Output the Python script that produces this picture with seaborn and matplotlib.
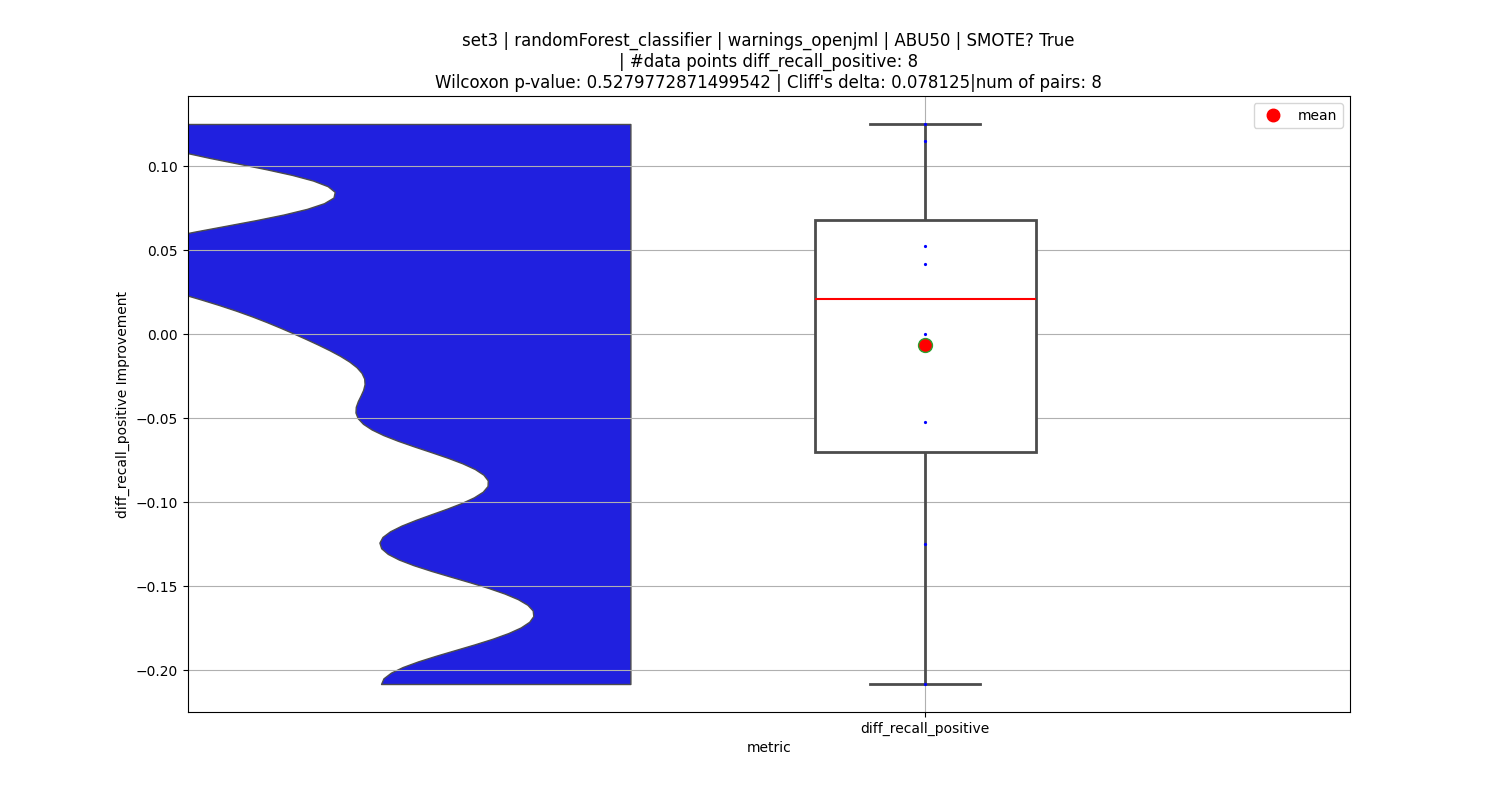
import numpy as np
import pandas as pd
import matplotlib
matplotlib.use('Agg')
import matplotlib.pyplot as plt
import seaborn as sns

# values (8 paired differences)
metric_name = 'diff_recall_positive'
improvement = [0.125, 0.1146, 0.0521, 0.0417, 0.0, -0.0521, -0.125, -0.2083]

title_lines = [
    'set3 | randomForest_classifier | warnings_openjml | ABU50 | SMOTE? True',
    '| #data points diff_recall_positive: 8',
    "Wilcoxon p-value: 0.5279772871499542 | Cliff's delta: 0.078125|num of pairs: 8",
]

df = pd.DataFrame({'metric': [metric_name] * len(improvement), 'value': improvement})
# box on position 0; the half violin's flat edge ends one step to its left
violin_width = 1.78
df['box_pos'] = 0.0
df['violin_pos'] = -1.0 - violin_width / 2

fig, ax = plt.subplots(figsize=(15, 8))

sns.violinplot(data=df, x='violin_pos', y='value', native_scale=True, orient='x',
               split=True, inner=None, cut=0, bw_adjust=0.3, width=violin_width,
               color='blue', linecolor='#4c4c4c', linewidth=1, ax=ax)

sns.boxplot(data=df, x='box_pos', y='value', native_scale=True, orient='x',
            width=0.75, color='white', linecolor='#4c4c4c', linewidth=2,
            showmeans=True,
            meanprops={'marker': 'o', 'markerfacecolor': 'red', 'markersize': 10},
            medianprops={'color': 'red', 'linewidth': 1.5}, ax=ax)

sns.stripplot(data=df, x='box_pos', y='value', native_scale=True, orient='x',
              color='blue', size=2.3, jitter=False, ax=ax)

ax.plot([], [], 'o', color='red', markersize=9, label='mean')
ax.legend(loc='upper right')

ax.set_xticks([0])
ax.set_xticklabels([metric_name])
ax.set_xlim(-2.503, 1.442)
ax.grid(True)
ax.set_title('\n'.join(title_lines))
ax.set_xlabel('metric')
ax.set_ylabel('diff_recall_positive Improvement')

fig.savefig('out.png', dpi=100)
